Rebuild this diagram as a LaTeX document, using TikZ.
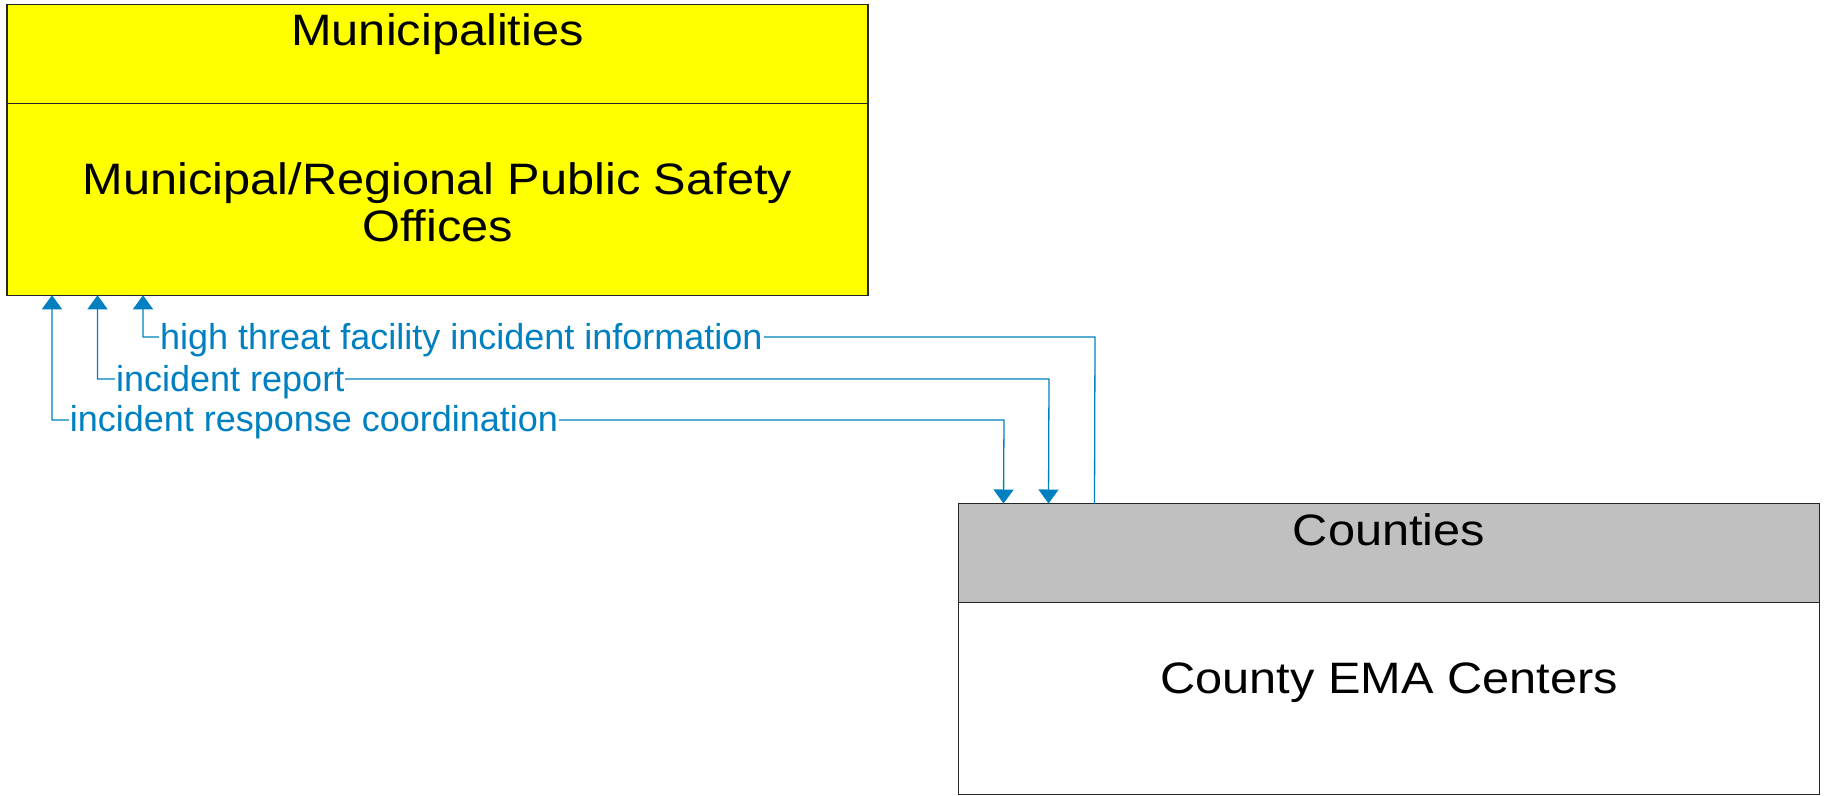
\documentclass[tikz,border=0pt]{standalone}
\usepackage{fontspec}
\setmainfont{Liberation Sans}
\newfontfamily\boxfont[FakeStretch=1.107]{Liberation Sans}
\usetikzlibrary{arrows.meta,positioning}
\definecolor{flowblue}{RGB}{0,128,192}
\definecolor{hdrgray}{RGB}{192,192,192}
\definecolor{munifill}{RGB}{255,255,0}

\begin{document}
\begin{tikzpicture}[x=1pt, y=-1pt,
      box/.style={draw=black!85, line width=1.5pt, inner sep=0pt, outer sep=0pt, minimum width=861pt},
      head/.style={box, minimum height=99pt}, body/.style={box, minimum height=192pt},
      title/.style={font=\boxfont\fontsize{44pt}{47.4pt}\selectfont, inner sep=0pt, anchor=base},
      lbl/.style={font=\fontsize{36pt}{40pt}\selectfont, text=flowblue, fill=white, inner sep=1pt, anchor=base west},
      tip/.tip={Triangle[width=20pt, length=14pt]},
      flow/.style={draw=flowblue, line width=1.3pt, -tip}, flow2/.style={flow, tip-tip}]
    \useasboundingbox (0,0) rectangle (1825,795);
    % the two centres
    \node[head, fill=munifill] (muniH) at (437.5,53.75) {};
    \node[body, fill=munifill, below=0pt of muniH] (muni) {};
    \node[head, fill=hdrgray] (cntyH) at (1389,553) {};
    \node[body, fill=white, below=0pt of cntyH] (cnty) {};
    \node[title] (muniT) at (437.5,45) {Municipalities};
    \node[title, align=center] (muniN) at (437.5,241.7) {Municipal/Regional Public Safety\\Offices};
    \node[title] (cntyT) at (1389,545) {Counties};
    \node[title] (cntyN) at (1389,693) {County EMA Centers};
    % flows
    \coordinate (bendA) at (1004,420); \coordinate (bendB) at (1049,379); \coordinate (bendC) at (1095,337);
    \draw[flow2] ([xshift=45pt]muni.south west) |- (bendA) -- ([xshift=45pt]cntyH.north west);
    \draw[flow2] ([xshift=90.5pt]muni.south west) |- (bendB) -- ([xshift=90pt]cntyH.north west);
    \draw[flow] ([xshift=136pt]cntyH.north west) -- (bendC) -| ([xshift=136pt]muni.south west);
    \node[lbl] (lblA) at (68.6,431) {incident response coordination};
    \node[lbl] (lblB) at (115,391) {incident report};
    \node[lbl] (lblC) at (159,349) {high threat facility incident information};
  \end{tikzpicture}
\end{document}
